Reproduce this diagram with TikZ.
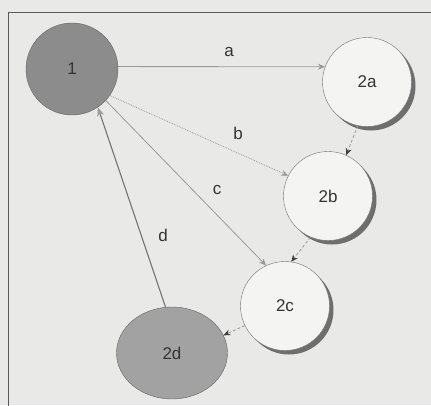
\documentclass[tikz,border=0pt]{standalone}
\usepackage{fontspec}
\setmainfont{Liberation Sans}
\usetikzlibrary{arrows.meta,shapes.geometric}
\definecolor{bgc}{HTML}{E9E9E7}
\definecolor{darkfill}{HTML}{8C8C8C}
\definecolor{midfill}{HTML}{A2A2A2}
\definecolor{lightfill}{HTML}{F4F4F2}
\definecolor{edgec}{HTML}{9A9A9A}
\definecolor{shad}{HTML}{6E6E6E}
\begin{document}
\begin{tikzpicture}[x=1pt,y=-1pt,
  every node/.style={font=\fontsize{17}{20}\selectfont, text=black!80},
  darknode/.style={circle, draw=black!60, fill=darkfill, minimum size=92pt, inner sep=0pt},
  litenode/.style={circle, draw=black!55, fill=lightfill, minimum size=89pt, inner sep=0pt},
  shadownode/.style={circle, fill=shad, minimum size=89pt, inner sep=0pt, draw=none},
  endnode/.style={ellipse, draw=black!60, fill=midfill, minimum width=111pt, minimum height=92pt, inner sep=0pt},
  lbl/.style={font=\fontsize{17}{20}\selectfont},
  flow/.style={draw=edgec, line width=0.8pt, -{Stealth[length=7pt,width=6pt,color=edgec]}},
  dflow/.style={draw=edgec, line width=0.8pt, densely dashed, -{Stealth[length=7pt,width=6pt,color=black!75]}},
  back/.style={draw=black!55, line width=1.1pt, -{Stealth[length=9pt,width=7pt,color=edgec]}}
]
\useasboundingbox (0,0) rectangle (431,405);
\fill[bgc] (0,0) rectangle (431,405);
\draw[black!65, line width=1pt] (8,420) -- (8,12) -- (440,12);

\node[shadownode] at (371,86) {};
\node[shadownode] at (332,200) {};
\node[shadownode] at (289,310) {};

\node[darknode] (n1) at (72,69) {1};
\node[litenode] (n2a) at (367,82) {2a};
\node[litenode] (n2b) at (328,196) {2b};
\node[litenode] (n2c) at (285,306) {2c};
\node[endnode] (n2d) at (172,353) {2d};

\draw[flow] (n1.3) -- (n2a.160);
\draw[flow, densely dotted] (n1.-35) -- (n2b.153);
\draw[flow] (n1.-43) -- (n2c.115);
\draw[back] (n2d.98) -- (n1.-56);
\draw[dflow] (n2a.258) -- (n2b.66);
\draw[dflow] (n2b.247) -- (n2c.82);
\draw[dflow] (n2c.206) -- (n2d.19);

\node[lbl] (la) at (229,52) {a};
\node[lbl] (lb) at (238,133) {b};
\node[lbl] (lc) at (217,190) {c};
\node[lbl] (ld) at (163,235) {d};
\end{tikzpicture}
\end{document}
